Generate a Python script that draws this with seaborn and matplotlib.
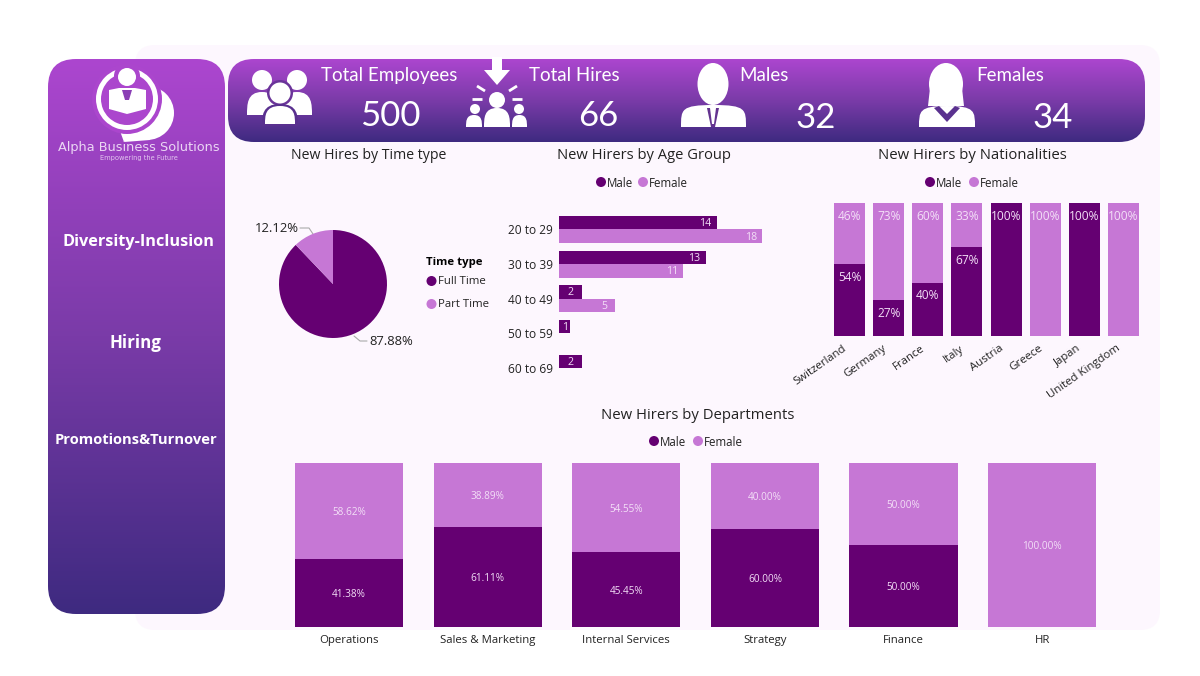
import numpy as np
import pandas as pd
import matplotlib
matplotlib.use("Agg")
import matplotlib.pyplot as plt
import seaborn as sns
from matplotlib.patches import FancyBboxPatch, Circle, Ellipse, PathPatch, Polygon, Wedge
from matplotlib.path import Path
from matplotlib.colors import LinearSegmentedColormap
from matplotlib.transforms import ScaledTranslation

# ---------- data ----------
kpi_titles = ["Total Employees", "Total Hires", "Males", "Females"]
kpi_values = ["500", "66", "32", "34"]
menu_items = ["Diversity-Inclusion", "Hiring", "Promotions&Turnover"]

time_types = ["Full Time", "Part Time"]
time_share = [87.88, 12.12]

age_groups = ["20 to 29", "30 to 39", "40 to 49", "50 to 59", "60 to 69"]
age_male = [14, 13, 2, 1, 2]
age_female = [18, 11, 5, np.nan, np.nan]

nations = ["Switzerland", "Germany", "France", "Italy", "Austria", "Greece", "Japan", "United Kingdom"]
nat_male = [54, 27, 40, 67, 100, 0, 100, 0]
nat_female = [46, 73, 60, 33, 0, 100, 0, 100]

departments = ["Operations", "Sales & Marketing", "Internal Services", "Strategy", "Finance", "HR"]
dep_male = [41.38, 61.11, 45.45, 60.00, 50.00, 0.0]
dep_female = [58.62, 38.89, 54.55, 40.00, 50.00, 100.00]

DARK = "#650072"
LIGHT = "#C677D5"
BG = "#FDF7FE"
TXT = "#222222"
LOGO_BG = "#AB46CD"
GRAD = LinearSegmentedColormap.from_list("g", ["#AC46CF", "#7A3BA8", "#3E2A80"])

sns.set_theme(style="white")
plt.rcParams["font.family"] = ["Open Sans", "DejaVu Sans"]

W, H = 1200, 676
fig = plt.figure(figsize=(12, 6.76), dpi=100, facecolor="white")

# ---------- page overlay in pixel coordinates ----------
ov = fig.add_axes([0, 0, 1, 1], zorder=0)
ov.set_xlim(0, W)
ov.set_ylim(H, 0)
ov.axis("off")


def px_axes(l, t, r, b):
    a = fig.add_axes([l / W, 1 - b / H, (r - l) / W, (b - t) / H], zorder=2)
    a.patch.set_alpha(0)
    return a


def label(x, y, s, **kw):
    kw.setdefault("zorder", 4)
    kw.setdefault("va", "center")
    ov.text(x, y + 1.5, s, **kw)


def panel(x0, y0, x1, y1, rad):
    p = FancyBboxPatch((x0 + rad, y0 + rad), x1 - x0 - 2 * rad, y1 - y0 - 2 * rad,
                       boxstyle=f"round,pad={rad},rounding_size={rad}",
                       fc="none", ec="none", transform=ov.transData)
    ov.add_patch(p)
    im = ov.imshow(np.linspace(0, 1, 256)[:, None], cmap=GRAD, aspect="auto",
                   extent=(x0, x1, y1, y0), zorder=1, interpolation="bilinear")
    im.set_clip_path(p)
    ov.set_xlim(0, W)
    ov.set_ylim(H, 0)


def dome(x0, x1, ytop, ybot, color="white", z=3, k=0.55):
    m = (x0 + x1) / 2
    s = ytop + (ybot - ytop) * k
    v = [(x0, ybot), (x0, s), (x0, ytop), (m, ytop), (x1, ytop), (x1, s), (x1, ybot), (x0, ybot)]
    c = [Path.MOVETO, Path.CURVE4, Path.CURVE4, Path.CURVE4, Path.CURVE4, Path.CURVE4, Path.LINETO, Path.CLOSEPOLY]
    ov.add_patch(PathPatch(Path(v, c), fc=color, ec="none", zorder=z))


def disc(x, y, r, color="white", z=3):
    ov.add_patch(Circle((x, y), r, fc=color, ec="none", zorder=z))


ov.add_patch(FancyBboxPatch((155, 65), 985, 545, boxstyle="round,pad=20,rounding_size=20",
                            fc=BG, ec="none", zorder=0))
panel(48, 59, 225, 614, 28)
panel(228, 59, 1145, 142, 26)

# logo
disc(147, 113, 27, "white", 2.4)
ov.add_patch(Polygon([(120, 131), (145, 128), (150, 140), (124, 142)], fc="white", ec="none", zorder=2.4))
disc(127, 99, 35, LOGO_BG, 2.5)
ov.add_patch(Wedge((127, 99), 31, 0, 360, width=5, fc="white", ec="none", zorder=2.6))
disc(127, 76, 13, LOGO_BG, 2.7)
disc(127, 77, 9)
ov.add_patch(Polygon([(109, 90), (119, 88), (135, 88), (146, 90), (146, 109), (127, 114), (109, 109)],
                     fc="white", ec="none", zorder=3))
ov.add_patch(Polygon([(122, 90), (132, 90), (129, 100), (125, 100)], fc="#8A3EB5", ec="none", zorder=4))
ov.text(138.5, 147, "Alpha Business Solutions", color="#EBD6F4", fontsize=9.3, family="DejaVu Sans",
        ha="center", va="center", zorder=4)
ov.text(139, 158, "Empowering the Future", color="#E3C6EF", fontsize=4.8, family="DejaVu Sans",
        ha="center", va="center", zorder=4)

# menu
for t, x, y, fs in zip(menu_items, [139, 135.5, 135.5], [240, 341, 439], [11.7, 12.2, 10.6]):
    label(x, y, t, color="white", fontsize=fs, fontweight="bold", ha="center")

# KPI text
kw = dict(color="white", family="Lato")
for t, x in zip(kpi_titles, [321, 529, 739, 976]):
    label(x, 74, t, fontsize=13.5, ha="left", **kw)
for v, x, y in zip(kpi_values, [390, 598, 816, 1053], [114, 114, 117, 117]):
    label(x, y, v, fontsize=25, ha="center", **kw)

# KPI icons: employees
disc(262, 80, 10)
disc(297, 80, 10)
dome(247, 277, 92, 115)
dome(282, 312, 92, 115)
disc(280, 93, 13, "#6A3499", 3.2)
disc(280, 93, 10.5, "white", 3.3)
dome(262, 298, 104, 126, "#59308F", 3.2)
dome(265, 295, 106, 124, "white", 3.3)

# KPI icons: hires
ov.add_patch(Polygon([(492, 57), (502, 57), (502, 70), (510, 70), (497, 85), (484, 70), (492, 70)],
                     fc="white", ec="none", zorder=3))
for xy in [[(477, 86), (485, 91)], [(517, 86), (509, 91)], [(472, 99), (482, 99)], [(512, 99), (522, 99)]]:
    ov.plot(*zip(*xy), color="white", lw=2, zorder=3, solid_capstyle="butt")
disc(497, 100, 8)
dome(484, 510, 108, 127)
disc(475, 109, 5)
disc(519, 109, 5)
dome(466, 482, 115, 127)
dome(512, 527, 115, 127)

# KPI icons: male
ov.add_patch(Ellipse((713, 84), 31, 42, fc="white", ec="none", zorder=3))
dome(681, 746, 105, 127, k=0.2)
ov.add_patch(Polygon([(707, 108), (719, 108), (715, 127), (711, 127)], fc="#63338F", ec="none", zorder=4))
ov.add_patch(Polygon([(710, 108), (716, 108), (714, 124), (712, 124)], fc="white", ec="none", zorder=5))

# KPI icons: female
ov.add_patch(Ellipse((946, 84), 34, 42, fc="white", ec="none", zorder=3))
ov.add_patch(Polygon([(930, 88), (962, 88), (964, 106), (928, 106)], fc="white", ec="none", zorder=3))
dome(919, 975, 106, 127, k=0.25)
ov.add_patch(Polygon([(934, 108), (947, 122), (960, 108), (955, 106), (947, 114), (939, 106)],
                     fc="#5A318F", ec="none", zorder=4))

# section titles
for t, x, y, fs in [("New Hires by Time type", 369, 154, 10.2), ("New Hirers by Age Group", 644, 154, 10.6),
                    ("New Hirers by Nationalities", 972, 154, 10.7), ("New Hirers by Departments", 697.5, 414, 10.7)]:
    label(x, y, t, fontsize=fs, color=TXT, ha="center")


def legend_row(x_dot1, x_dot2, y):
    for xd, col, name in [(x_dot1, DARK, "Male"), (x_dot2, LIGHT, "Female")]:
        disc(xd, y, 5, col)
        label(xd + 6, y, name, fontsize=8.3, color=TXT, ha="left")


legend_row(601, 643, 182)
legend_row(930, 974, 182)
legend_row(654, 698, 441)

# ---------- pie ----------
pie_ax = px_axes(279, 230, 387, 338)
pie_ax.pie(time_share, colors=[DARK, LIGHT], startangle=90, counterclock=False, radius=1.0,
           wedgeprops=dict(linewidth=0))
pie_ax.set_xlim(-1, 1)
pie_ax.set_ylim(-1, 1)
ov.plot([300, 309, 313], [228, 228, 234], color="#AAAAAA", lw=0.8, zorder=3)
ov.plot([354, 360, 367], [336, 341, 341], color="#AAAAAA", lw=0.8, zorder=3)
label(255, 227, f"{time_share[1]:.2f}%", fontsize=9.4, color=TXT, ha="left")
label(369, 340, f"{time_share[0]:.2f}%", fontsize=9.4, color=TXT, ha="left")
label(426, 261, "Time type", fontsize=8.2, fontweight="bold", color="black", ha="left")
for name, col, y in zip(time_types, [DARK, LIGHT], [280, 303]):
    disc(431.5, y + 1, 5, col)
    label(438, y, name, fontsize=8.2, color=TXT, ha="left")

# ---------- age groups ----------
age_df = pd.DataFrame({"group": age_groups * 2,
                       "count": age_male + age_female,
                       "sex": ["Male"] * 5 + ["Female"] * 5})
a = px_axes(559, 212, 770, 385.5)
sns.barplot(data=age_df, y="group", x="count", hue="sex", hue_order=["Male", "Female"],
            order=age_groups, palette=[DARK, LIGHT], width=0.78, saturation=1, legend=False, ax=a, linewidth=0)
a.set_xlim(0, 211 / 11.28)
a.set_ylim(len(age_groups) - 0.5, -0.5)
for cont, vals in zip(a.containers, [age_male, age_female]):
    for bar, v in zip(cont, vals):
        if not np.isnan(v):
            xpos = v - 1.0 if v >= 3 else v / 2
            a.annotate(f"{int(v)}", (xpos, bar.get_y() + bar.get_height() / 2), xytext=(0, -0.7),
                       textcoords="offset points", color="#F3DFF7", fontsize=7.6, ha="center", va="center")
a.set_xlabel("")
a.set_ylabel("")
a.set_xticks([])
a.tick_params(axis="y", length=0, pad=4.2, labelsize=8.6, labelcolor=TXT)
sns.despine(ax=a, left=True, bottom=True)

# ---------- nationalities ----------
nat_df = pd.DataFrame({"nation": nations, "male": nat_male, "female": nat_female})
n = px_axes(830, 203, 1143, 336)
sns.barplot(data=nat_df, x="nation", y="male", color=DARK, width=0.79, saturation=1, ax=n, linewidth=0)
sns.barplot(data=nat_df, x="nation", y="female", color=LIGHT, width=0.79, saturation=1, ax=n, linewidth=0,
            bottom=nat_df["male"].to_numpy())
n.set_ylim(0, 100)
n.set_xlim(-0.5, len(nations) - 0.5)
for i, (m, f) in enumerate(zip(nat_male, nat_female)):
    if m:
        n.annotate(f"{m}%", (i, m), xytext=(0, -9.5), textcoords="offset points", color="#F3DFF7",
                   fontsize=8.6, ha="center", va="center")
    if f:
        n.annotate(f"{f}%", (i, 100), xytext=(0, -9.5), textcoords="offset points", color="#F3DFF7",
                   fontsize=8.6, ha="center", va="center")
n.set_xlabel("")
n.set_ylabel("")
n.set_yticks([])
n.tick_params(axis="x", length=0, pad=5, labelsize=8.2, labelcolor=TXT)
n.set_xticks(range(len(nations)), nations, rotation=35, ha="right", rotation_mode="anchor")
shift = ScaledTranslation(-7 / 100, 0, fig.dpi_scale_trans)
for lab in n.get_xticklabels():
    lab.set_transform(lab.get_transform() + shift)
sns.despine(ax=n, left=True, bottom=True)

# ---------- departments ----------
dep_df = pd.DataFrame({"dept": departments, "male": dep_male, "female": dep_female})
d = px_axes(279.7, 463, 1111.5, 627)
sns.barplot(data=dep_df, x="dept", y="male", color=DARK, width=0.78, saturation=1, ax=d, linewidth=0)
sns.barplot(data=dep_df, x="dept", y="female", color=LIGHT, width=0.78, saturation=1, ax=d, linewidth=0,
            bottom=dep_df["male"].to_numpy())
d.set_ylim(0, 100)
d.set_xlim(-0.5, len(departments) - 0.5)
for i, (m, f) in enumerate(zip(dep_male, dep_female)):
    if m:
        d.annotate(f"{m:.2f}%", (i, m / 2), xytext=(0, -1), textcoords="offset points",
                   color="#F3DFF7", fontsize=7.2, ha="center", va="center")
    if f:
        d.annotate(f"{f:.2f}%", (i, m + f / 2), xytext=(0, -1), textcoords="offset points",
                   color="#F3DFF7", fontsize=7.2, ha="center", va="center")
d.set_xlabel("")
d.set_ylabel("")
d.set_yticks([])
d.tick_params(axis="x", length=0, pad=6, labelsize=8.2, labelcolor=TXT)
sns.despine(ax=d, left=True, bottom=True)

fig.savefig("out.png", dpi=100, facecolor="white")
